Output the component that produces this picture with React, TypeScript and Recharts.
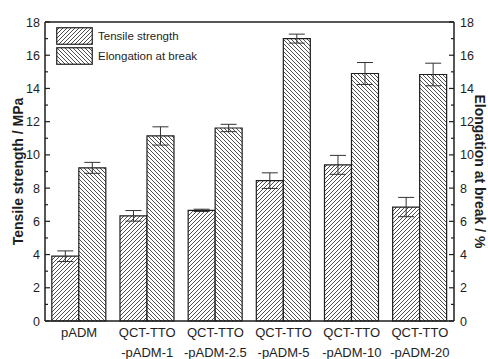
import { BarChart, Bar, XAxis, YAxis, ErrorBar, ReferenceLine } from "recharts";

const samples = ["pADM", "QCT-TTO\n-pADM-1", "QCT-TTO\n-pADM-2.5", "QCT-TTO\n-pADM-5", "QCT-TTO\n-pADM-10", "QCT-TTO\n-pADM-20"];
const tensile = [3.9, 6.33, 6.66, 8.45, 9.4, 6.86];
const tensileErr = [0.32, 0.32, 0.07, 0.47, 0.57, 0.58];
const elongation = [9.22, 11.14, 11.62, 17.0, 14.9, 14.84];
const elongationErr = [0.33, 0.55, 0.22, 0.27, 0.66, 0.68];
const yTicks = [0, 1, 2, 3, 4, 5, 6, 7, 8, 9, 10, 11, 12, 13, 14, 15, 16, 17, 18];
const legendItems = [
  { label: "Tensile strength", fill: "url(#hatchUp)" },
  { label: "Elongation at break", fill: "url(#hatchDown)" },
];

const data = samples.map((name, i) => ({
  name,
  tensile: tensile[i],
  tensileErr: tensileErr[i],
  elongation: elongation[i],
  elongationErr: elongationErr[i],
}));

const FONT = "'Liberation Sans', Arial, sans-serif";
const INK = "#1e1e1e";

function XTick({ x, y, payload }: any) {
  const lines = String(payload.value).split("\n");
  return (
    <text x={x} y={y} textAnchor="middle" fontFamily={FONT} fontSize={13} fill={INK}>
      {lines.map((l, i) => (
        <tspan key={i} x={x} y={y + 16 + i * 20}>
          {l}
        </tspan>
      ))}
    </text>
  );
}

function LeftTick({ x, y, payload }: any) {
  const v = payload.value;
  const major = v % 2 === 0;
  const ax = x + 4;
  return (
    <g>
      <line x1={ax} x2={ax + (major ? 5 : 3)} y1={y} y2={y} stroke={INK} strokeWidth={1.2} />
      {major && (
        <text x={x - 1} y={y + 4.5} textAnchor="end" fontFamily={FONT} fontSize={12.5} fill={INK}>
          {v}
        </text>
      )}
    </g>
  );
}

function RightTick({ x, y, payload }: any) {
  const v = payload.value;
  const major = v % 2 === 0;
  const ax = x - 4;
  return (
    <g>
      <line x1={ax} x2={ax - (major ? 5 : 3)} y1={y} y2={y} stroke={INK} strokeWidth={1.2} />
      {major && (
        <text x={x + 2} y={y + 4.5} textAnchor="start" fontFamily={FONT} fontSize={12.5} fill={INK}>
          {v}
        </text>
      )}
    </g>
  );
}

// rotated axis title placed from the axis viewBox
function axisTitle(text: string, side: "left" | "right") {
  return ({ viewBox }: any) => {
    const { x, y, width, height } = viewBox;
    const cx = side === "left" ? x + 18 : x + width - 8;
    const cy = y + height / 2;
    const angle = side === "left" ? -90 : 90;
    return (
      <text
        x={cx}
        y={cy}
        transform={`rotate(${angle} ${cx} ${cy})`}
        textAnchor="middle"
        dominantBaseline="central"
        fontFamily={FONT}
        fontSize={14}
        fontWeight="bold"
        fill={INK}
      >
        {text}
      </text>
    );
  };
}

// legend drawn as an overlay so it does not push the plot area down
function LegendBox() {
  return (
    <div style={{ position: "absolute", left: 56, top: 26, fontFamily: FONT, fontSize: 11.5, color: INK }}>
      {legendItems.map((it) => (
        <div key={it.label} style={{ display: "flex", alignItems: "center", height: 20 }}>
          <svg width={37} height={18} style={{ display: "block" }}>
            <rect x={0.75} y={0.75} width={35.5} height={16.5} fill={it.fill} stroke={INK} strokeWidth={1.2} />
          </svg>
          <span style={{ marginLeft: 5 }}>{it.label}</span>
        </div>
      ))}
    </div>
  );
}

export default function App() {
  return (
    <div style={{ position: "absolute", left: 0, top: 0, width: 488, height: 359, background: "#fff" }}>
      <BarChart
        width={488}
        height={359}
        data={data}
        margin={{ top: 22, right: 0, bottom: 0, left: 0 }}
        barCategoryGap="10%"
        barGap={0}
      >
        <defs>
          <pattern id="hatchUp" patternUnits="userSpaceOnUse" width={4} height={4}>
            <rect width={4} height={4} fill="#fff" />
            <path d="M-1,1 l2,-2 M0,4 l4,-4 M3,5 l2,-2" stroke="#3a3a3a" strokeWidth={0.9} />
          </pattern>
          <pattern id="hatchDown" patternUnits="userSpaceOnUse" width={4} height={4}>
            <rect width={4} height={4} fill="#fff" />
            <path d="M-1,3 l2,2 M0,0 l4,4 M3,-1 l2,2" stroke="#3a3a3a" strokeWidth={0.9} />
          </pattern>
        </defs>
        <XAxis
          dataKey="name"
          interval={0}
          height={38}
          tickSize={0}
          tickMargin={0}
          tickLine={false}
          axisLine={{ stroke: INK, strokeWidth: 1.5 }}
          tick={<XTick />}
        />
        <YAxis
          yAxisId="left"
          orientation="left"
          domain={[0, 18]}
          ticks={yTicks}
          interval={0}
          width={45}
          tickSize={0}
          tickMargin={4}
          tickLine={false}
          axisLine={{ stroke: INK, strokeWidth: 1.5 }}
          tick={<LeftTick />}
          label={{ content: axisTitle("Tensile strength / MPa", "left") }}
        />
        <YAxis
          yAxisId="right"
          orientation="right"
          domain={[0, 18]}
          ticks={yTicks}
          interval={0}
          width={34}
          tickSize={0}
          tickMargin={4}
          tickLine={false}
          axisLine={{ stroke: INK, strokeWidth: 1.5 }}
          tick={<RightTick />}
          label={{ content: axisTitle("Elongation at break / %", "right") }}
        />
        <ReferenceLine yAxisId="left" y={18} stroke={INK} strokeWidth={1.5} />
        <Bar yAxisId="left" dataKey="tensile" fill="url(#hatchUp)" stroke={INK} strokeWidth={1.2} isAnimationActive={false}>
          <ErrorBar dataKey="tensileErr" width={8} stroke="#333" strokeWidth={1} direction="y" />
        </Bar>
        <Bar yAxisId="right" dataKey="elongation" fill="url(#hatchDown)" stroke={INK} strokeWidth={1.2} isAnimationActive={false}>
          <ErrorBar dataKey="elongationErr" width={8} stroke="#333" strokeWidth={1} direction="y" />
        </Bar>
      </BarChart>
      <LegendBox />
    </div>
  );
}
